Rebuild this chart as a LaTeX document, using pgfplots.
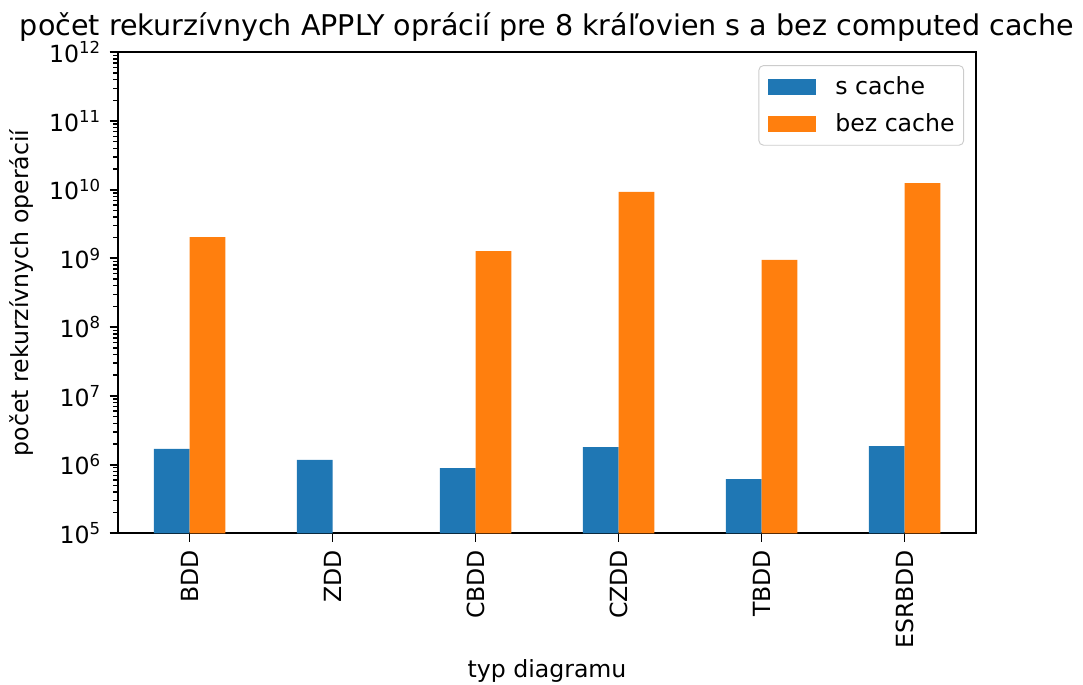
\documentclass[border=0pt]{standalone}
\usepackage{fontspec}
\setmainfont{DejaVu Sans}
\usepackage{pgfplots}
\pgfplotsset{compat=1.18}
\definecolor{c0}{HTML}{1F77B4}
\definecolor{c1}{HTML}{FF7F0E}
\begin{document}
\begin{tikzpicture}
\begin{axis}[
  scale only axis, width=362.1bp, height=203bp,
  ymode=log, ymin=1e5, ymax=1e12, log origin y=infty,
  xmin=-0.5, xmax=5.5,
  xtick={0,1,2,3,4,5}, xticklabels={BDD,ZDD,CBDD,CZDD,TBDD,ESRBDD},
  x tick label style={rotate=90, anchor=east},
  ytick={1e5,1e6,1e7,1e8,1e9,1e10,1e11,1e12},
  yticklabels={10\textsuperscript{5},10\textsuperscript{6},10\textsuperscript{7},10\textsuperscript{8},10\textsuperscript{9},10\textsuperscript{10},10\textsuperscript{11},10\textsuperscript{12}},
  minor ytick={2e5,3e5,4e5,5e5,6e5,7e5,8e5,9e5,
    2e6,3e6,4e6,5e6,6e6,7e6,8e6,9e6,
    2e7,3e7,4e7,5e7,6e7,7e7,8e7,9e7,
    2e8,3e8,4e8,5e8,6e8,7e8,8e8,9e8,
    2e9,3e9,4e9,5e9,6e9,7e9,8e9,9e9,
    2e10,3e10,4e10,5e10,6e10,7e10,8e10,9e10,
    2e11,3e11,4e11,5e11,6e11,7e11,8e11,9e11},
  tick align=outside, tick pos=left,
  major tick length=3.5bp, minor tick length=2bp,
  every major tick/.append style={line width=0.8bp, black},
  every minor tick/.append style={line width=0.6bp, black},
  axis line style={line width=0.8bp},
  ticklabel style={font=\fontsize{10}{12}\selectfont},
  label style={font=\fontsize{10}{12}\selectfont},
  xlabel={typ diagramu}, ylabel={počet rekurzívnych operácií},
  xlabel style={at={(0.5,0)}, anchor=base, yshift=-61bp, inner sep=0pt},
  title={počet rekurzívnych APPLY oprácií pre 8 kráľovien s a bez computed cache},
  title style={font=\fontsize{12.1}{14}\selectfont, at={(0.5,1)}, anchor=base, yshift=0.9bp, inner sep=0pt},
  ybar, bar width=0.25,
  clip=false,
  legend cell align=left,
  legend style={at={(1,1)}, anchor=north east, xshift=-5bp, yshift=-5.4bp,
    draw=black!20, rounded corners=2bp, fill=white,
    font=\fontsize{10}{12}\selectfont, inner xsep=3.8bp, inner ysep=4.5bp,
    row sep=6.5bp,
    nodes={inner sep=0pt},
    /tikz/every odd column/.append style={column sep=8bp}},
  legend image code/.code={\draw[#1,draw=none,sharp corners] (0bp,-3.5bp) rectangle (20.5bp,3.5bp);},
]
\addplot[fill=c0, draw=none, bar shift=-0.125] coordinates {
  (0,1.69e6) (1,1.17e6) (2,8.9e5) (3,1.80e6) (4,6.17e5) (5,1.86e6)};
\addlegendentry{s cache}
\addplot[fill=c1, draw=none, bar shift=0.125] coordinates {
  (0,2.05e9) (2,1.28e9) (3,9.27e9) (4,9.5e8) (5,1.25e10)};
\addlegendentry{bez cache}
\end{axis}
\path ([xshift=-49.8bp,yshift=-64bp]current axis.south west) rectangle ([xshift=45.15bp,yshift=22.07bp]current axis.north east);
\end{tikzpicture}
\end{document}
